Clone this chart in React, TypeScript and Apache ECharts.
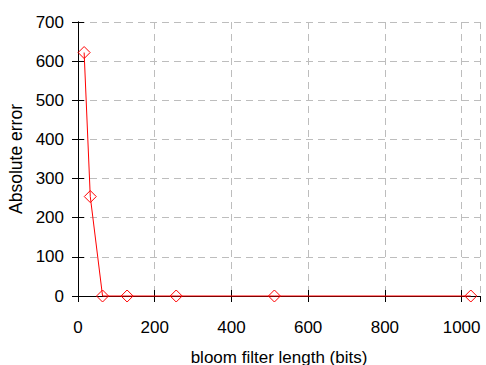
import React, { useEffect, useRef } from "react";
import * as echarts from "echarts";

const bloomLengths = [16, 32, 64, 128, 256, 512, 1024];
const absoluteErrors = [622, 254, 0, 0, 0, 0, 0];
const xTicks = [0, 200, 400, 600, 800, 1000];
const yTicks = [0, 100, 200, 300, 400, 500, 600, 700];

const FONT = "'Liberation Sans', Arial, sans-serif";

export default function App() {
  const ref = useRef<HTMLDivElement>(null);
  useEffect(() => {
    if (!ref.current) return;
    const chart = echarts.init(ref.current, null, { renderer: "svg" });
    const gridLine = { show: true, lineStyle: { color: "#bdbdbd", type: [7, 5] as any, width: 1 } };
    const tick = { show: true, inside: true, length: 6, lineStyle: { color: "#000", width: 1 } };
    chart.setOption({
      animation: false,
      backgroundColor: "#fff",
      textStyle: { fontFamily: FONT },
      grid: { left: 78, top: 22, right: 6, bottom: 69, containLabel: false, outerBoundsMode: "none" },
      xAxis: [
        {
          type: "value",
          min: 0,
          max: 1048,
          interval: 200,
          name: "bloom filter length (bits)",
          nameLocation: "middle",
          nameGap: 53,
          nameTextStyle: { fontSize: 17, color: "#000", fontFamily: FONT },
          axisLine: { show: true, lineStyle: { color: "#000", width: 1 } },
          axisTick: tick,
          axisLabel: {
            fontSize: 17,
            color: "#000",
            margin: 23,
            fontFamily: FONT,
            showMaxLabel: false,
            formatter: (v: number) => (xTicks.includes(v) ? String(v) : ""),
          },
          splitLine: gridLine,
        },
        {
          type: "value",
          position: "top",
          min: 0,
          max: 1048,
          interval: 200,
          axisLine: { show: true, lineStyle: { color: "#000", width: 1 } },
          axisTick: tick,
          axisLabel: { show: false },
          splitLine: { show: false },
        },
      ],
      yAxis: [
        {
          type: "value",
          min: 0,
          max: 700,
          interval: 100,
          name: "Absolute error",
          nameLocation: "middle",
          nameGap: 52,
          nameRotate: 90,
          nameTextStyle: { fontSize: 17.5, color: "#000", fontFamily: FONT },
          axisLine: { show: true, lineStyle: { color: "#000", width: 1 } },
          axisTick: tick,
          axisLabel: {
            fontSize: 17,
            color: "#000",
            margin: 14,
            fontFamily: FONT,
            formatter: (v: number) => (yTicks.includes(v) ? String(v) : ""),
          },
          splitLine: gridLine,
        },
        {
          type: "value",
          position: "right",
          min: 0,
          max: 700,
          interval: 100,
          axisLine: { show: true, lineStyle: { color: "#000", width: 1 } },
          axisTick: tick,
          axisLabel: { show: false },
          splitLine: { show: false },
        },
      ],
      series: [
        {
          type: "line",
          xAxisIndex: 0,
          yAxisIndex: 0,
          data: bloomLengths.map((x, i) => [x, absoluteErrors[i]]),
          symbol: "diamond",
          symbolSize: 12,
          clip: false,
          lineStyle: { color: "#ff0000", width: 1 },
          itemStyle: { color: "rgba(255,255,255,0)", borderColor: "#ff0000", borderWidth: 1 },
          z: 5,
        },
      ],
    });
    return () => chart.dispose();
  }, []);
  return <div ref={ref} style={{ width: 486, height: 365, position: "absolute", left: 0, top: 0 }} />;
}
